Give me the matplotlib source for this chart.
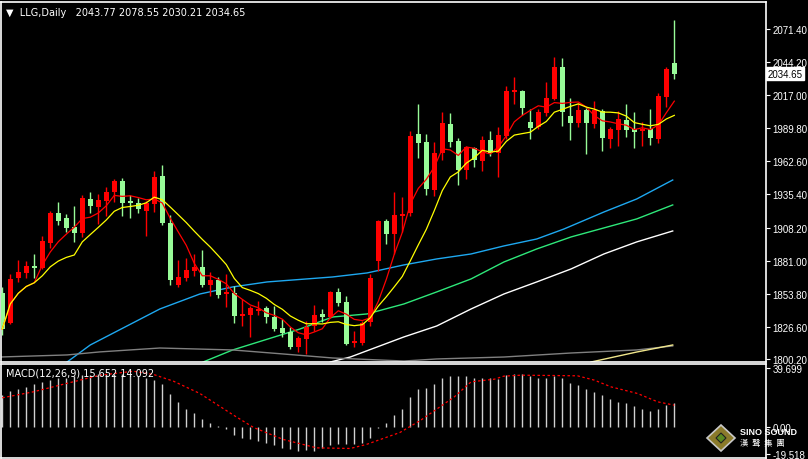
import matplotlib
matplotlib.use("Agg")
import matplotlib.pyplot as plt
import numpy as np
import pandas as pd
from matplotlib.patches import Rectangle, Polygon

plt.rcParams['font.family'] = ['Liberation Sans', 'DejaVu Sans']

opens = [1854.44,1829.78,1866.77,1870.88,1876.63,1874.99,1895.53,1920.19,1916.08,1908.68,
         1903.75,1931.69,1925.12,1930.05,1937.45,1946.49,1930.05,1928.41,1921.83,1927.58,
         1950.6,1911.97,1861.01,1866.77,1872.52,1875.81,1861.01,1865.12,1853.62,1854.44,
         1835.53,1836.36,1839.64,1842.11,1834.71,1825.67,1822.38,1810.06,1816.63,1827.31,
         1837.18,1834.71,1855.26,1847.04,1813.34,1813.34,1830.6,1880.74,1913.61,1902.93,
         1917.72,1920.19,1985.11,1978.54,1939.09,1969.5,1993.33,1979.36,1955.53,1973.61,
         1962.93,1980.18,1969.5,1983.47,2019.62,2020.44,1994.98,1990.87,2002.37,2013.87,
         2040.17,1999.9,1994.15,2004.84,1993.33,2004.01,1981.0,1988.4,1996.62,1989.22,
         1987.58,1989.22,1981.0,2015.51,2043.77]
highs = [1859.37,1870.05,1881.56,1880.74,1886.49,1901.28,1921.83,1929.23,1919.36,1925.94,
         1934.98,1937.45,1935.8,1941.56,1948.14,1948.96,1934.98,1932.52,1930.05,1954.71,
         1959.64,1918.54,1881.56,1883.2,1886.49,1889.78,1871.7,1867.59,1870.05,1860.19,
         1849.51,1843.75,1847.86,1843.75,1843.75,1833.07,1826.49,1819.1,1831.42,1844.58,
         1841.29,1856.09,1858.55,1851.97,1823.2,1831.42,1870.05,1914.43,1915.25,1937.45,
         1933.34,1987.58,2009.77,1985.11,1978.54,2003.19,2002.37,1981.83,1975.25,1974.43,
         1983.47,1987.58,1990.87,2024.55,2031.95,2021.27,2005.66,2005.66,2027.84,2048.38,
         2047.56,2014.69,2010.59,2006.48,2012.23,2005.66,1990.87,2004.01,2009.77,2003.19,
         1994.98,2005.66,2018.8,2040.17,2078.55]
lows = [1819.92,1828.96,1863.48,1866.77,1866.77,1874.16,1891.42,1910.32,1904.57,1896.35,
        1900.46,1920.19,1911.14,1917.72,1929.23,1917.72,1916.08,1920.19,1901.28,1921.01,
        1910.32,1861.01,1859.37,1864.3,1868.41,1859.37,1851.97,1850.33,1842.93,1829.78,
        1827.31,1818.27,1836.36,1829.78,1823.2,1818.27,1808.42,1805.95,1804.31,1823.2,
        1830.6,1833.89,1843.75,1811.7,1810.06,1811.7,1827.31,1872.52,1894.71,1886.49,
        1904.57,1917.72,1965.4,1934.98,1934.16,1963.75,1974.43,1943.2,1948.14,1958.0,
        1954.71,1967.04,1949.78,1981.0,2009.77,2000.73,1981.0,1989.22,1999.9,2013.05,
        1991.69,1980.18,1990.87,1968.68,1990.04,1971.14,1973.61,1975.25,1982.65,1973.61,
        1975.25,1976.07,1977.72,2007.3,2030.21]
closes = [1824.85,1865.95,1871.7,1876.63,1874.99,1897.18,1920.19,1913.61,1907.86,1903.75,
          1932.52,1925.94,1930.87,1937.45,1946.49,1928.41,1928.41,1923.47,1928.41,1949.78,
          1911.97,1865.12,1867.59,1873.34,1875.81,1861.01,1865.12,1852.8,1855.26,1835.53,
          1837.18,1842.11,1841.29,1834.71,1824.85,1821.56,1810.06,1817.45,1826.49,1836.36,
          1834.71,1855.26,1846.22,1812.52,1814.99,1829.78,1866.77,1913.61,1902.93,1918.54,
          1919.36,1983.47,1977.72,1939.91,1969.5,1994.15,1978.54,1955.53,1974.43,1963.75,
          1980.18,1969.5,1984.29,2020.44,2021.27,2006.48,1990.04,2003.19,2014.69,2040.17,
          2003.19,1994.15,2004.84,1994.15,2004.84,1981.83,1989.22,1997.44,1988.4,1986.76,
          1989.22,1981.83,2016.33,2038.53,2034.65]

# long moving averages (bar index, price)
ma_cyan_x = [8.1,11,19.7,24.7,28.8,33.1,41.3,45.6,50.2,54.3,58.6,62.7,66.8,70.2,75.2,79.3,83.8]
ma_cyan_y = [1797.7,1811.7,1841.3,1853.6,1859.4,1863.5,1867.6,1870.9,1877.5,1882.4,1886.5,1893.1,1898.8,1907.0,1921.0,1931.7,1947.3]
ma_green_x = [25.1,28.8,37.2,41.3,45.6,50.2,54.3,58.6,62.7,66.8,71.1,74.7,79.3,83.8]
ma_green_y = [1797.7,1807.6,1824.8,1834.7,1837.2,1845.4,1855.3,1866.0,1879.9,1890.6,1900.5,1907.0,1915.3,1926.8]
ma_white_x = [41.0,43.5,50.2,54.3,58.6,62.7,66.8,71.1,75.2,79.3,83.8]
ma_white_y = [1797.7,1801.8,1818.3,1827.3,1841.3,1853.6,1863.5,1874.2,1886.5,1896.4,1905.4]
ma_gray_x = [-0.3,8.1,12.2,19.7,28.8,35.1,41.3,50.2,54.3,62.7,71.1,79.3,83.8]
ma_gray_y = [1801.8,1803.5,1806.0,1809.2,1807.6,1804.3,1801.0,1798.5,1800.2,1801.8,1805.1,1807.6,1810.9]
ma_khaki_x = [73.6,79.3,83.8]
ma_khaki_y = [1797.7,1805.9,1811.7]

macd_hist = [20.6,23.2,24.9,26.2,28.0,29.3,30.4,31.5,32.1,33.0,33.6,33.6,34.1,34.1,34.1,34.1,33.6,33.2,32.1,30.4,
             27.8,21.3,16.1,11.9,9.3,5.2,2.6,0.4,-1.7,-5.0,-7.6,-8.2,-9.3,-10.8,-11.9,-14.1,-14.7,-15.8,-15.2,-15.8,
             -14.1,-11.9,-11.5,-11.5,-11.5,-10.8,-7.6,-0.7,2.8,7.6,11.3,
             19.1,24.9,25.6,28.2,32.1,33.2,33.0,33.0,31.5,32.1,31.5,31.0,33.6,34.3,34.7,33.2,32.1,32.1,33.0,31.5,
             28.6,27.1,24.9,22.8,20.6,17.8,16.3,15.2,13.4,11.9,10.2,11.3,14.1,15.652]
sig_x = [0.0,3.9,8.0,12.2,16.4,18.9,21.4,24.7,28.9,31.4,35.1,39.3,43.5,45.5,49.7,
         52.3,54.4,56.5,58.6,61.5,62.7,64.8,69.0,71.9,74.0,76.1,79.4,81.9,84.0]
sig_y = [18.9,22.8,28.2,33.6,36.2,34.1,29.7,21.7,7.6,-0.4,-8.2,-13.7,-14.1,-11.5,-3.7,
         4.3,11.9,19.5,29.3,31.0,33.0,33.6,33.4,33.2,30.4,26.0,21.7,16.3,14.092]

price_ticks = [2071.40,2044.20,2017.00,1989.80,1962.60,1935.40,1908.20,1881.00,1853.80,1826.60,1800.20]

W, H = 808, 460
fig = plt.figure(figsize=(W/100, H/100), dpi=100, facecolor='black')
def ax_px(x0, y0, x1, y1):
    return fig.add_axes([x0/W, 1-y1/H, (x1-x0)/W, (y1-y0)/H])

ax = ax_px(1, 3, 766, 363)
ax2 = ax_px(1, 365, 766, 459)
xlim = (-0.16, 95.46)
for a in (ax, ax2):
    a.set_facecolor('black')
    a.set_xlim(*xlim)
    for s in a.spines.values():
        s.set_color('white'); s.set_linewidth(1.2)
    a.set_xticks([])
    a.yaxis.tick_right()
    a.tick_params(axis='y', colors='white', labelsize=7, length=3, pad=1.5)

ax.set_ylim(1797.7, 2093.6)
n = len(closes)
idx = np.arange(n)
for i in range(n):
    o, h, l, c = opens[i], highs[i], lows[i], closes[i]
    col = '#FF0000' if c >= o else '#98FB98'
    ax.vlines(i, l, h, color=col, lw=1.0, zorder=3)
    bh = max(abs(c-o), 0.6)
    ax.add_patch(Rectangle((i-0.32, min(o, c)), 0.64, bh, color=col, lw=0, zorder=3))

cs = pd.Series(closes)
ax.plot(idx, cs.rolling(5, min_periods=1).mean(), color='#FF0000', lw=0.9, zorder=4)
ax.plot(idx, cs.rolling(10, min_periods=1).mean(), color='#FFFF00', lw=0.9, zorder=4)
ax.plot(ma_cyan_x, ma_cyan_y, color='#1EA8F0', lw=1.0, zorder=2)
ax.plot(ma_green_x, ma_green_y, color='#2EE87A', lw=1.0, zorder=2)
ax.plot(ma_white_x, ma_white_y, color='white', lw=1.0, zorder=2)
ax.plot(ma_gray_x, ma_gray_y, color='#808080', lw=1.0, zorder=2)
ax.plot(ma_khaki_x, ma_khaki_y, color='#F0E68C', lw=1.0, zorder=2)

ax.set_yticks(price_ticks)
ax.set_yticklabels([f"{v:.2f}" for v in price_ticks])
ax.text(1.002, (closes[-1]-1797.7)/(2093.6-1797.7), f"{closes[-1]:.2f}", transform=ax.transAxes,
        color='black', fontsize=7, va='center', ha='left',
        bbox=dict(facecolor='white', edgecolor='white', pad=1.0))
ax.text(0.006, 0.985, "\u25BC  LLG,Daily   2043.77 2078.55 2030.21 2034.65", transform=ax.transAxes,
        color='white', fontsize=7, va='top', ha='left', family=['DejaVu Sans'])

ax2.set_ylim(-20.3, 40.9)
ax2.vlines(idx, 0, macd_hist, color='#D0D0D0', lw=1.0)
ax2.plot(sig_x, sig_y, color='#FF0000', lw=0.9, ls=(0, (2, 2)))
ax2.set_yticks([38.0, 0.0, -17.8])
ax2.set_yticklabels(["39.699", "0.00", "-19.518"])
ax2.text(0.006, 0.96, "MACD(12,26,9) 15.652 14.092", transform=ax2.transAxes,
         color='white', fontsize=7, va='top', ha='left', family=['DejaVu Sans'])

# logo
fig.patches.append(Polygon([[721/W, 1-426/H], [735/W, 1-439/H], [721/W, 1-452/H], [707/W, 1-439/H]],
                           closed=True, transform=fig.transFigure, facecolor='#8a7a2a', edgecolor='#c8c8c8', lw=1.2))
fig.patches.append(Polygon([[721/W, 1-434/H], [726/W, 1-439/H], [721/W, 1-444/H], [716/W, 1-439/H]],
                           closed=True, transform=fig.transFigure, facecolor='#5a8a20', edgecolor='#202020', lw=0.8))
fig.text(740/W, 1-433/H, "SINO SOUND", color='white', fontsize=6.5, fontweight='bold', va='center', ha='left')
fig.text(740/W, 1-444/H, "漢  聲  集  團", color='white', fontsize=6, va='center', ha='left',
         family=['Noto Sans CJK TC', 'DejaVu Sans'])

fig.savefig("out.png", dpi=100, facecolor='black')
